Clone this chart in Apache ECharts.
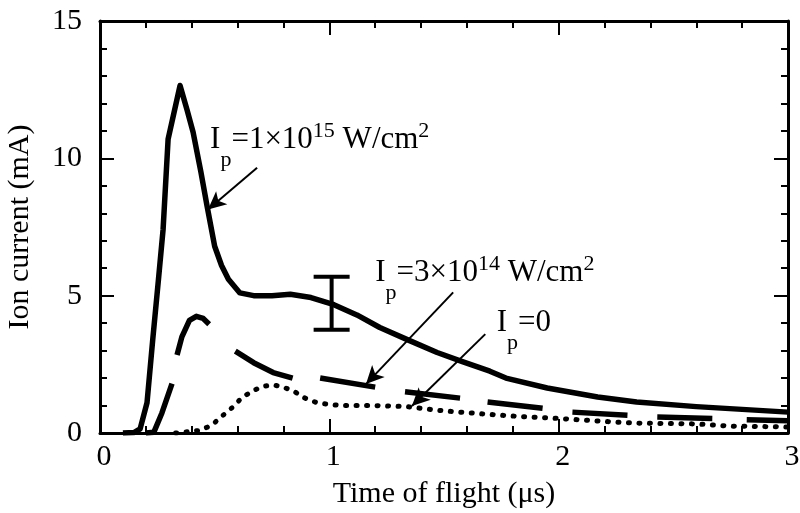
<!DOCTYPE html>
<html>
<head>
<meta charset="utf-8">
<script src="https://cdn.jsdelivr.net/npm/echarts@6.0.0/dist/echarts.min.js"></script>
<style>
html, body { margin: 0; padding: 0; background: #fff; }
#chart { width: 800px; height: 513px; }
</style>
</head>
<body>
<div id="chart"></div>
<script>
var chart = echarts.init(document.getElementById('chart'));

var FONT = '"Liberation Serif", "Times New Roman", serif';

// Ip = 1x10^15 W/cm2 (solid)
var tHigh = [0.1, 0.15, 0.175, 0.205, 0.23, 0.255, 0.275, 0.297, 0.349, 0.38, 0.406, 0.44, 0.466, 0.5, 0.53, 0.56, 0.61, 0.67, 0.75, 0.83, 0.92, 1.02, 1.12, 1.22, 1.34, 1.47, 1.58, 1.7, 1.77, 1.95, 2.17, 2.34, 2.6, 3.0];
var iHigh = [0, 0.02, 0.15, 1.1, 3.4, 5.6, 7.4, 10.7, 12.65, 11.75, 10.95, 9.5, 8.3, 6.8, 6.1, 5.6, 5.1, 5.0, 5.0, 5.05, 4.93, 4.67, 4.3, 3.84, 3.4, 2.93, 2.6, 2.25, 2.0, 1.64, 1.31, 1.13, 0.96, 0.76];

// Ip = 3x10^14 W/cm2 (long dashes, null = gap between dashes)
var tMid = [0.2, 0.235, 0.27, 0.314, null, 0.336, 0.357, 0.39, 0.42, 0.45, 0.476, null, 0.59, 0.67, 0.755, 0.84, null, 0.96, 1.2, null, 1.33, 1.57, null, 1.69, 1.93, null, 2.06, 2.3, null, 2.43, 2.67, null, 2.82, 3.0];
var iMid = [0, 0.03, 0.73, 1.8, null, 2.84, 3.5, 4.1, 4.25, 4.17, 3.96, null, 2.98, 2.56, 2.2, 2.0, null, 2.0, 1.67, null, 1.5, 1.27, null, 1.13, 0.9, null, 0.76, 0.65, null, 0.58, 0.53, null, 0.48, 0.45];

// Ip = 0 (dotted)
var tZero = [0.33, 0.39, 0.44, 0.49, 0.53, 0.58, 0.62, 0.67, 0.71, 0.755, 0.8, 0.85, 0.885, 0.95, 1.05, 1.19, 1.34, 1.48, 1.66, 1.83, 2.0, 2.24, 2.34, 2.6, 2.75, 3.0];
var iZero = [0, 0.05, 0.1, 0.3, 0.6, 0.95, 1.3, 1.55, 1.7, 1.75, 1.67, 1.5, 1.3, 1.09, 1.0, 1.0, 0.96, 0.82, 0.7, 0.6, 0.53, 0.4, 0.36, 0.33, 0.25, 0.22];

// error bar
var errT = [1.01];
var errLow = [3.76];
var errHigh = [5.69];

// annotation arrows [t, I]
var arrowFrom = [[0.685, 9.66], [1.54, 5.12], [1.68, 3.6]];
var arrowTo = [[0.471, 8.14], [1.16, 1.78], [1.36, 0.98]];

// annotation labels, baseline-left anchor [t, I]
var labelText = [
  '{n|I}{s|p}{n|=1×10}{u|15}{n| W/cm}{u|2}',
  '{n|I}{s|p}{n|=3×10}{u|14}{n| W/cm}{u|2}',
  '{n|I}{s|p}{n|=0}'
];
var labelAt = [[0.48, 10.3], [1.2, 5.46], [1.73, 3.64]];

function pairs(xs, ys) {
  return xs.map(function (x, k) {
    return x === null ? [null, null] : [x, ys[k]];
  });
}

var tickLine = { color: '#000', width: 2 };

function makeAxis(pos, min, max, step, labels, name, gap) {
  var bottom = pos === 'bottom';
  return {
    type: 'value',
    position: pos,
    min: min,
    max: max,
    interval: step,
    name: name,
    nameLocation: 'middle',
    nameGap: gap,
    nameTextStyle: { fontFamily: FONT, fontSize: 30, color: '#000' },
    axisLine: { show: true, onZero: false, lineStyle: { color: '#000', width: 3 } },
    axisTick: { show: true, inside: true, length: 14, lineStyle: tickLine },
    minorTick: { show: true, splitNumber: 5, length: 7, lineStyle: tickLine },
    splitLine: { show: false },
    minorSplitLine: { show: false },
    axisLabel: {
      show: labels,
      fontFamily: FONT,
      fontSize: 30,
      color: '#000',
      margin: bottom ? 9 : 18,
      padding: bottom ? [0, 0, 0, 8] : 0,
      showMinLabel: true,
      showMaxLabel: true,
      hideOverlap: false
    }
  };
}

// all tokens top-aligned; top padding sets each token's vertical offset
var rich = {
  n: { fontFamily: FONT, fontSize: 31, lineHeight: 40, verticalAlign: 'top', padding: [4, 0, 0, 0], color: '#000' },
  s: { fontFamily: FONT, fontSize: 22, lineHeight: 20, verticalAlign: 'top', padding: [29, 0, 0, 0], color: '#000' },
  u: { fontFamily: FONT, fontSize: 22, lineHeight: 20, verticalAlign: 'top', padding: [0, 0, 0, 0], color: '#000' }
};

var option = {
  animation: false,
  backgroundColor: '#fff',
  grid: { left: 100, right: 12, top: 21, bottom: 80, containLabel: false, outerBoundsMode: 'none' },
  xAxis: [
    makeAxis('bottom', 0, 3, 1, true, 'Time of flight (μs)', 46),
    makeAxis('top', 0, 3, 1, false, '', 0)
  ],
  yAxis: [
    makeAxis('left', 0, 15, 5, true, 'Ion current (mA)', 65),
    makeAxis('right', 0, 15, 5, false, '', 0)
  ],
  series: [
    {
      type: 'line',
      data: pairs(tHigh, iHigh),
      showSymbol: false,
      symbol: 'none',
      silent: true,
      lineStyle: { color: '#000', width: 5.5, join: 'round' }
    },
    {
      type: 'line',
      data: pairs(tMid, iMid),
      connectNulls: false,
      showSymbol: false,
      symbol: 'none',
      silent: true,
      lineStyle: { color: '#000', width: 5.5, cap: 'butt', join: 'round' }
    },
    {
      type: 'line',
      data: pairs(tZero, iZero),
      showSymbol: false,
      symbol: 'none',
      silent: true,
      lineStyle: { color: '#000', width: 5, type: [1, 9.5], cap: 'round', join: 'round' },
      markLine: {
        silent: true,
        animation: false,
        symbol: ['none', 'arrow'],
        symbolSize: [13, 18],
        label: { show: false },
        emphasis: { disabled: true },
        lineStyle: { color: '#000', width: 2, type: 'solid' },
        data: arrowFrom.map(function (p, k) {
          return [{ coord: p }, { coord: arrowTo[k] }];
        })
      }
    },
    {
      type: 'custom',
      silent: true,
      data: errT.map(function (t, k) { return [t, errLow[k], errHigh[k]]; }),
      renderItem: function (params, api) {
        var lo = api.coord([api.value(0), api.value(1)]);
        var hi = api.coord([api.value(0), api.value(2)]);
        var half = 18;
        var st = { stroke: '#000', lineWidth: 4 };
        return {
          type: 'group',
          children: [
            { type: 'line', shape: { x1: lo[0], y1: lo[1], x2: hi[0], y2: hi[1] }, style: st },
            { type: 'line', shape: { x1: lo[0] - half, y1: lo[1], x2: lo[0] + half, y2: lo[1] }, style: st },
            { type: 'line', shape: { x1: hi[0] - half, y1: hi[1], x2: hi[0] + half, y2: hi[1] }, style: st }
          ]
        };
      }
    }
  ]
};

chart.setOption(option);

// place the rich text labels from their data anchors
var labels = labelAt.map(function (p, k) {
  var px = chart.convertToPixel({ gridIndex: 0 }, p);
  return {
    type: 'text',
    x: px[0],
    y: px[1] - 29.6,
    silent: true,
    style: {
      text: labelText[k],
      rich: rich,
      align: 'left',
      verticalAlign: 'top',
      fill: '#000'
    }
  };
});
chart.setOption({ graphic: labels });
</script>
</body>
</html>
